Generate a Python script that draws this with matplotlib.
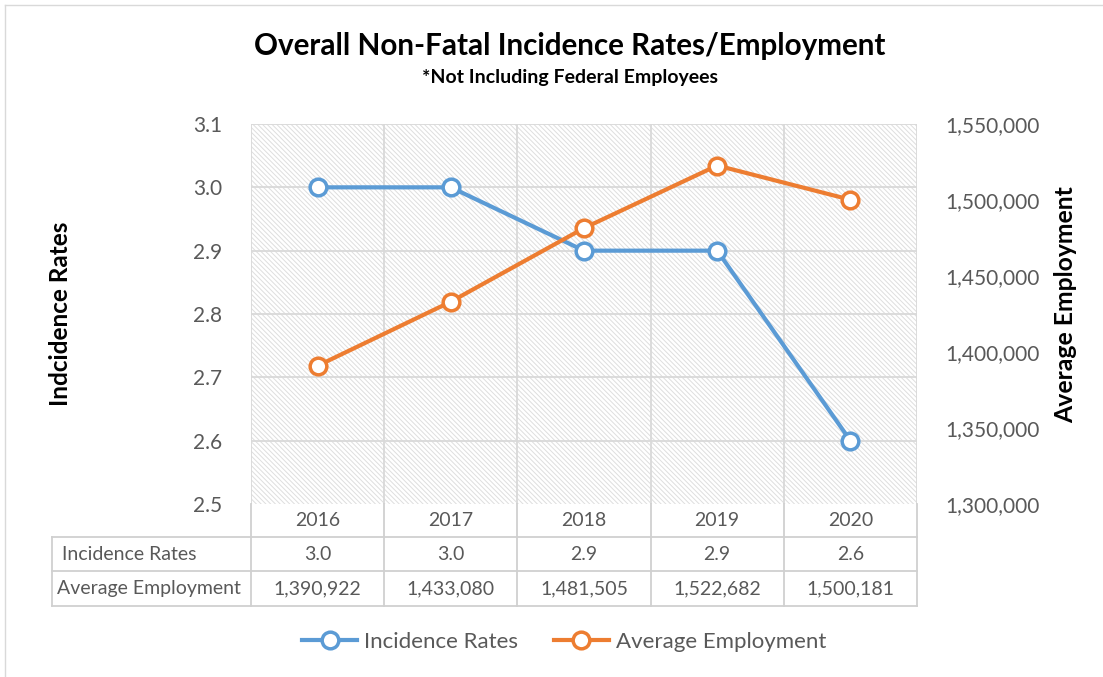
import matplotlib
matplotlib.use("Agg")
import matplotlib.pyplot as plt
from matplotlib.patches import Rectangle
from matplotlib.lines import Line2D
from matplotlib.ticker import FuncFormatter, MultipleLocator
import matplotlib.transforms as mtransforms

plt.rcParams['font.family'] = ['Lato', 'DejaVu Sans']
plt.rcParams['hatch.color'] = '#dedede'
plt.rcParams['hatch.linewidth'] = 0.7

years = ['2016', '2017', '2018', '2019', '2020']
incidence_rates = [3.0, 3.0, 2.9, 2.9, 2.6]
avg_employment = [1390922, 1433080, 1481505, 1522682, 1500181]
title = 'Overall Non-Fatal Incidence Rates/Employment'
subtitle = '*Not Including Federal Employees'
left_label = 'Indcidence Rates'
right_label = 'Average Employment'
series_names = ['Incidence Rates', 'Average Employment']

BLUE = '#5b9bd5'
ORANGE = '#ed7d31'
GRID = '#d9d9d9'
TXT = '#595959'

W, H = 1103, 677
fig = plt.figure(figsize=(W / 100, H / 100), dpi=100)

L, R, T, B = 251, 917, 124, 504
ax = fig.add_axes([L / W, 1 - B / H, (R - L) / W, (B - T) / H])
ax2 = ax.twinx()

x = list(range(len(years)))
ax.set_xlim(-0.5, len(years) - 0.5)
ax.set_ylim(2.5, 3.1)
ax2.set_ylim(1300000, 1550000)
ax.yaxis.set_major_locator(MultipleLocator(0.1))
ax2.yaxis.set_major_locator(MultipleLocator(50000))
ax.yaxis.set_major_formatter(FuncFormatter(lambda v, p: f'{v:.1f}'))
ax2.yaxis.set_major_formatter(FuncFormatter(lambda v, p: f'{v:,.0f}'))

# hatched background
ax.add_patch(Rectangle((0, 0), 1, 1, transform=ax.transAxes, facecolor='white',
                       hatch='\\\\\\\\\\\\\\', edgecolor='#dedede', linewidth=0, zorder=0))
# gridlines
for yv in [2.6, 2.7, 2.8, 2.9, 3.0, 3.1]:
    ax.axhline(yv, color=GRID, lw=1.3, zorder=1)
for i in range(len(years) + 1):
    ax.axvline(i - 0.5, color=GRID, lw=1.3, zorder=1)

for a in (ax, ax2):
    for s in a.spines.values():
        s.set_visible(False)
    a.tick_params(length=0, labelsize=15, labelcolor=TXT)
ax.set_xticks([])
ax.tick_params(axis='y', pad=21)
ax2.tick_params(axis='y', pad=20)

ax.plot(x, incidence_rates, color=BLUE, lw=3, marker='o', ms=12,
        mfc='white', mec=BLUE, mew=2.5, zorder=5, clip_on=False)
ax2.plot(x, avg_employment, color=ORANGE, lw=3, marker='o', ms=12,
         mfc='white', mec=ORANGE, mew=2.5, zorder=5, clip_on=False)

# data table
trans = mtransforms.blended_transform_factory(ax.transData, ax.transAxes)
ph = B - T
pw = R - L
r1 = -(537 - 504) / ph
r2 = -(571 - 504) / ph
r3 = -(606 - 504) / ph
xl = (52 - L) / pw
lc = '#d0d0d0'
def hline(y0, x0, x1):
    ax.add_line(Line2D([x0, x1], [y0, y0], transform=ax.transAxes, color=lc, lw=1.3, clip_on=False))
def vline(xx, y0, y1):
    ax.add_line(Line2D([xx, xx], [y0, y1], transform=ax.transAxes, color=lc, lw=1.3, clip_on=False))
hline(r1, xl, 1)
hline(r2, xl, 1)
hline(r3, xl, 1)
vline(xl, r1, r3)
for i in range(len(years) + 1):
    vline(i / len(years), 0, r3)

fs = 14
for i, yr in enumerate(years):
    ax.text(i, (0 + r1) / 2, yr, transform=trans, ha='center', va='center', fontsize=fs, color=TXT)
    ax.text(i, (r1 + r2) / 2, f'{incidence_rates[i]:.1f}', transform=trans, ha='center', va='center', fontsize=fs, color=TXT)
    ax.text(i, (r2 + r3) / 2, f'{avg_employment[i]:,}', transform=trans, ha='center', va='center', fontsize=fs, color=TXT)
ax.text(xl + 10 / pw, (r1 + r2) / 2, series_names[0], transform=ax.transAxes, ha='left', va='center', fontsize=fs, color=TXT)
ax.text(xl + 5 / pw, (r2 + r3) / 2, series_names[1], transform=ax.transAxes, ha='left', va='center', fontsize=fs, color=TXT)

# titles
fig.text(570 / W, 1 - 46 / H, title, ha='center', va='center', fontsize=21.3, fontweight='bold', color='black')
fig.text(570 / W, 1 - 78 / H, subtitle, ha='center', va='center', fontsize=14, fontweight='bold', color='black')
fig.text(60 / W, 1 - 314 / H, left_label, ha='center', va='center', rotation=90, fontsize=17.5, fontweight='bold')
fig.text(1066 / W, 1 - 305 / H, right_label, ha='center', va='center', rotation=90, fontsize=17.8, fontweight='bold')

# legend
handles = [Line2D([], [], color=BLUE, lw=3, marker='o', ms=12, mfc='white', mec=BLUE, mew=2.5),
           Line2D([], [], color=ORANGE, lw=3, marker='o', ms=12, mfc='white', mec=ORANGE, mew=2.5)]
leg = fig.legend(handles, series_names, loc='center', bbox_to_anchor=(564 / W, 1 - 642 / H), ncol=2,
                 frameon=False, fontsize=16, labelcolor=TXT, handlelength=2.5, handletextpad=0.3,
                 columnspacing=1.6)

# outer border
fig.add_artist(Line2D([5 / W, 1], [1 - 5 / H, 1 - 5 / H], transform=fig.transFigure, color='#d9d9d9', lw=1))
fig.add_artist(Line2D([5 / W, 5 / W], [0, 1 - 5 / H], transform=fig.transFigure, color='#d9d9d9', lw=1))

fig.savefig('out.png', dpi=100)
